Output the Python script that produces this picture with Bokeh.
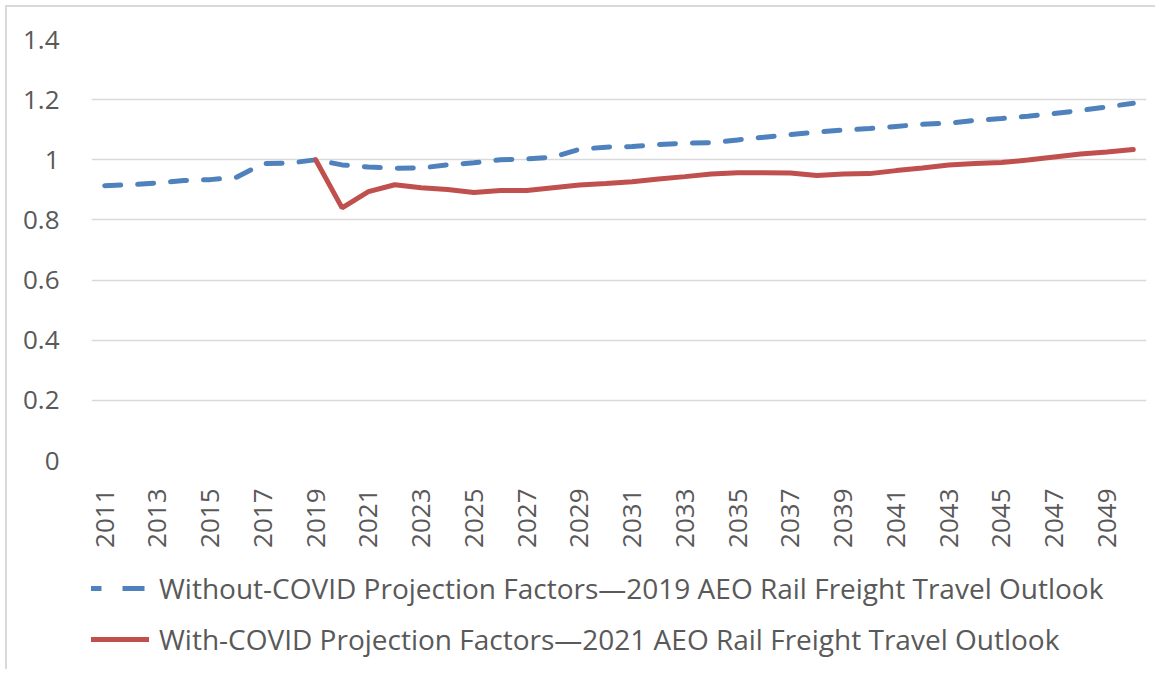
import math
from bokeh.plotting import figure
from bokeh.layouts import column
from bokeh.models import Range1d, FixedTicker, CustomJSTickFormatter, Legend, LegendItem
from bokeh.embed import file_html
from bokeh.resources import INLINE

years = list(range(2011, 2051))
without_covid = [0.914, 0.917, 0.923, 0.931, 0.934, 0.942, 0.987, 0.989, 1.000, 0.983,
                 0.976, 0.972, 0.973, 0.983, 0.990, 1.000, 1.003, 1.009, 1.035, 1.042,
                 1.044, 1.051, 1.055, 1.057, 1.066, 1.075, 1.084, 1.092, 1.099, 1.104,
                 1.111, 1.118, 1.122, 1.131, 1.137, 1.145, 1.154, 1.164, 1.176, 1.188]
with_years = list(range(2019, 2051))
with_covid = [1.000, 0.840, 0.894, 0.917, 0.907, 0.901, 0.891, 0.898, 0.898, 0.907,
              0.916, 0.921, 0.927, 0.936, 0.944, 0.953, 0.957, 0.957, 0.956, 0.948,
              0.953, 0.954, 0.964, 0.973, 0.983, 0.988, 0.991, 0.999, 1.009, 1.019,
              1.026, 1.034]
x_tick_years = list(range(2011, 2051, 2))
y_ticks = [0, 0.2, 0.4, 0.6, 0.8, 1, 1.2, 1.4]
label_without = "Without-COVID Projection Factors\u20142019 AEO Rail Freight Travel Outlook"
label_with = "With-COVID Projection Factors\u20142021 AEO Rail Freight Travel Outlook"

FONT = "Open Sans"
TXT = "#595959"
BLUE = "#4f81bd"
RED = "#c0504d"

p = figure(width=1148, height=553, output_backend="svg", toolbar_location=None,
           x_range=Range1d(2010.5, 2050.5), y_range=Range1d(0, 1.4),
           min_border_left=84, min_border_right=9, min_border_top=32, min_border_bottom=100)
p.outline_line_color = None
p.xgrid.grid_line_color = None
p.ygrid.grid_line_color = "#d9d9d9"
p.ygrid.grid_line_width = 1.5

p.yaxis.ticker = FixedTicker(ticks=y_ticks)
p.yaxis.formatter = CustomJSTickFormatter(code="return tick.toString();")
p.yaxis.axis_line_color = None
p.yaxis.major_tick_line_color = None
p.yaxis.minor_tick_line_color = None
p.yaxis.major_label_standoff = 26
p.yaxis.major_label_text_font = FONT
p.yaxis.major_label_text_font_size = "26px"
p.yaxis.major_label_text_color = TXT

p.xaxis.ticker = FixedTicker(ticks=x_tick_years)
p.xaxis.axis_line_color = None
p.xaxis.major_tick_line_color = None
p.xaxis.minor_tick_line_color = None
p.xaxis.major_label_orientation = math.pi / 2
p.xaxis.major_label_standoff = 22
p.xaxis.major_label_text_font = FONT
p.xaxis.major_label_text_font_size = "26px"
p.xaxis.major_label_text_color = TXT

p.line(years, without_covid, line_color=BLUE, line_width=5,
       line_dash="16 17", line_cap="round")
p.line(with_years, with_covid, line_color=RED, line_width=5, line_cap="round")

# legend strip below the chart (key renderers use the same series, out of view)
lf = figure(width=1148, height=109, output_backend="svg", toolbar_location=None,
            x_axis_type=None, y_axis_type=None, x_range=Range1d(0, 1), y_range=Range1d(0, 1),
            min_border=0)
lf.outline_line_color = None
lf.grid.grid_line_color = None
k1 = lf.line(years, without_covid, line_color=BLUE, line_width=5, line_dash="22 21", line_cap="butt")
k2 = lf.line(with_years, with_covid, line_color=RED, line_width=5, line_cap="butt")
legend = Legend(items=[LegendItem(label=label_without, renderers=[k1]),
                       LegendItem(label=label_with, renderers=[k2])],
                location=(-12, 10), orientation="vertical",
                glyph_width=70, glyph_height=40, label_height=40, label_standoff=10,
                spacing=11, padding=0, margin=0,
                border_line_color=None, background_fill_alpha=0,
                label_text_font=FONT, label_text_font_size="28px", label_text_color=TXT)
lf.add_layout(legend, "center")

layout = column(p, lf, spacing=0)
layout.styles = {"margin-left": "5px", "margin-top": "5px",
                 "border-left": "2px solid #d9d9d9", "border-top": "2px solid #d9d9d9"}

open("out.html", "w").write(file_html(layout, INLINE))
